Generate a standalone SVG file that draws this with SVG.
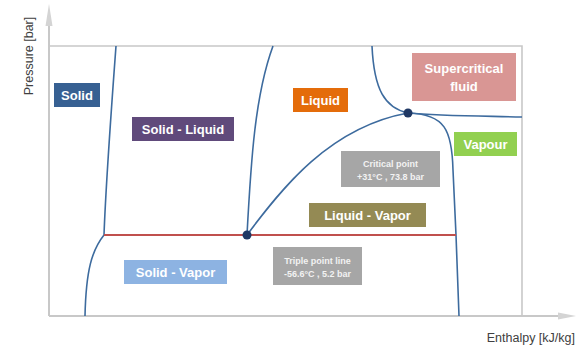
<svg xmlns="http://www.w3.org/2000/svg" width="576" height="346" viewBox="0 0 576 346">
<style>
.lbl{font-family:"Liberation Sans",Arial,sans-serif;font-weight:bold;fill:#ffffff;text-anchor:middle}
.big{font-size:13px}
.small{font-size:9px;fill:#f2f2f2}
.curve{fill:none;stroke:#3d6b9e;stroke-width:1.6}
.axis{fill:none;stroke:#c8c8c8;stroke-width:2}
.ax{font-family:"Liberation Sans",Arial,sans-serif;font-size:12.5px;fill:#404040}
</style>
<rect width="576" height="346" fill="#ffffff"/>
<g id="axes">
<path class="axis" d="M49,316 L49,22"/>
<polygon points="49,4 45.5,26 52.5,26" fill="#d4d4d4"/>
<path class="axis" d="M49,316 L560,316"/>
<polygon points="576,316 558,312.5 558,319.5" fill="#d4d4d4"/>
<path fill="none" stroke="#c8c8c8" stroke-width="1.6" d="M49,46 L522,46 L522,316"/>
<text class="ax" transform="translate(33,56) rotate(-90)" text-anchor="middle">Pressure [bar]</text>
<text class="ax" x="575" y="342" text-anchor="end">Enthalpy [kJ/kg]</text>
</g>
<g id="connectors">
<path class="curve" d="M116,46 C112,100 106,180 104,235 C92,250 86,270 85,316"/>
<path class="curve" d="M247,235 C251,160 255,95 273,46"/>
<path class="curve" d="M247,235 C282,188 330,127 408,113"/>
<path class="curve" d="M408,113 C445,114 452,130 453,170 L456,235 L459,316"/>
<path class="curve" d="M372,46 C374,90 385,108 408,113 C440,116 480,116 522,117"/>
<path fill="none" stroke="#c0504d" stroke-width="2.2" d="M104,235 L456,235"/>
<circle cx="247" cy="235" r="4.5" fill="#1f3864"/>
<circle cx="408" cy="113" r="4.5" fill="#1f3864"/>
</g>
<g id="solid">
<rect x="54" y="83" width="46" height="24" fill="#376092"/>
<text class="lbl big" x="77" y="100">Solid</text>
</g>
<g id="solid-liquid">
<rect x="132" y="117" width="102" height="24" fill="#604a7b"/>
<text class="lbl big" x="183" y="134">Solid - Liquid</text>
</g>
<g id="liquid">
<rect x="293" y="88" width="55" height="24" fill="#e46c0a"/>
<text class="lbl big" x="320.5" y="105">Liquid</text>
</g>
<g id="supercritical">
<rect x="412" y="53" width="104" height="48" fill="#d99694"/>
<text class="lbl big" x="464" y="73">Supercritical</text>
<text class="lbl big" x="464" y="91">fluid</text>
</g>
<g id="vapour">
<rect x="454" y="132" width="63" height="24" fill="#92d050"/>
<text class="lbl big" x="485.5" y="149">Vapour</text>
</g>
<g id="critical-point">
<rect x="341" y="151" width="99" height="36" fill="#a6a6a6"/>
<text class="lbl small" x="390.5" y="167">Critical point</text>
<text class="lbl small" x="390.5" y="180">+31°C , 73.8 bar</text>
</g>
<g id="liquid-vapor">
<rect x="309" y="203" width="117" height="24" fill="#948a54"/>
<text class="lbl big" x="367.5" y="220">Liquid - Vapor</text>
</g>
<g id="triple-point">
<rect x="273" y="247" width="89" height="38" fill="#a6a6a6"/>
<text class="lbl small" x="317.5" y="264">Triple point line</text>
<text class="lbl small" x="317.5" y="277">-56.6°C , 5.2 bar</text>
</g>
<g id="solid-vapor">
<rect x="124" y="260" width="103" height="24" fill="#8db3e2"/>
<text class="lbl big" x="175.5" y="277">Solid - Vapor</text>
</g>
</svg>
